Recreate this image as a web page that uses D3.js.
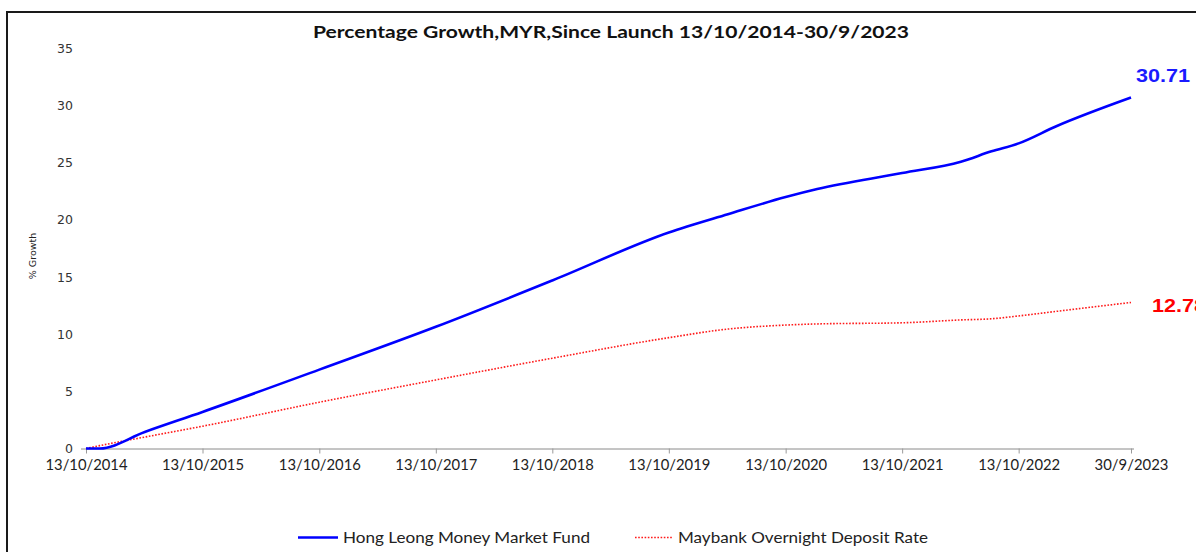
<!DOCTYPE html>
<html>
<head>
<meta charset="utf-8">
<script src="https://cdn.jsdelivr.net/npm/d3@7"></script>
<style>
  body { margin: 0; background: #fff; }
  svg { display: block; }
</style>
</head>
<body>
<div id="chart-area"></div>
<script>
// Data
var dates = ["2014-10-13", "2014-11-25", "2015-04-15", "2015-10-13", "2016-10-13",
             "2017-10-13", "2018-10-13", "2019-10-13", "2020-04-15", "2020-10-13",
             "2021-01-20", "2021-10-13", "2022-04-15", "2022-07-20", "2022-10-13",
             "2023-02-08", "2023-09-30"];
var fundValues = [0, 0, 1.45, 3.2, 6.9, 10.65, 14.7, 18.9, 20.5, 22.0,
                  22.7, 24.1, 25.1, 26.0, 26.7, 28.2, 30.71];
var depositValues = [0, 0.25, 1.0, 1.95, 4.05, 6.0, 7.9, 9.7, 10.45, 10.8,
                     10.9, 11.0, 11.25, 11.35, 11.6, 12.0, 12.78];
var tickDates = ["2014-10-13", "2015-10-13", "2016-10-13", "2017-10-13", "2018-10-13",
                 "2019-10-13", "2020-10-13", "2021-10-13", "2022-10-13", "2023-09-30"];
var tickLabels = ["13/10/2014", "13/10/2015", "13/10/2016", "13/10/2017", "13/10/2018",
                  "13/10/2019", "13/10/2020", "13/10/2021", "13/10/2022", "30/9/2023"];
var yTicks = [0, 5, 10, 15, 20, 25, 30, 35];
var seriesNames = ["Hong Leong Money Market Fund", "Maybank Overnight Deposit Rate"];
var endLabels = ["30.71", "12.78"];

var width = 1196, height = 552;
var parse = d3.timeParse("%Y-%m-%d");

var svg = d3.select("#chart-area")
    .append("svg")
    .attr("width", width)
    .attr("height", height);

svg.append("rect")
    .attr("width", width).attr("height", height)
    .attr("fill", "#fff");

// outer frame
svg.append("rect")
    .attr("x", 7).attr("y", 12)
    .attr("width", 1210).attr("height", 560)
    .attr("fill", "none")
    .attr("stroke", "#1a1a1a")
    .attr("stroke-width", 2);

// Scales
var x = d3.scaleTime()
    .domain([parse(dates[0]), parse(dates[dates.length - 1])])
    .range([86, 1131]);

var y = d3.scaleLinear()
    .domain([0, 35])
    .range([448.5, 48.5]);

// Title
svg.append("text")
    .attr("x", 611)
    .attr("y", 38)
    .attr("text-anchor", "middle")
    .attr("font-family", "Lato, 'Open Sans', sans-serif")
    .attr("font-weight", "bold")
    .attr("font-size", "17px")
    .attr("fill", "#111")
    .attr("textLength", 596)
    .attr("lengthAdjust", "spacingAndGlyphs")
    .text("Percentage Growth,MYR,Since Launch 13/10/2014-30/9/2023");

// X Axis
var xAxisCall = d3.axisBottom(x)
    .tickValues(tickDates.map(parse))
    .tickFormat(function(d, i){ return tickLabels[i]; })
    .tickSizeOuter(0)
    .tickSize(5);

var xAxis = svg.append("g")
    .attr("class", "x axis")
    .attr("transform", "translate(0,448.5)")
    .call(xAxisCall);

xAxis.select(".domain")
    .attr("d", "M81,0.5H1134")
    .attr("stroke", "#8a8a8a");
xAxis.selectAll(".tick line").attr("stroke", "#9a9a9a");
xAxis.selectAll(".tick text")
    .attr("y", 10)
    .attr("font-family", "Lato, sans-serif")
    .attr("font-size", "15.5px")
    .attr("fill", "#222")
    .attr("textLength", function(d, i){ return tickLabels[i].length * 8.2; })
    .attr("lengthAdjust", "spacingAndGlyphs");

// Y Axis (labels only)
var yAxisCall = d3.axisLeft(y)
    .tickValues(yTicks)
    .tickSize(0)
    .tickPadding(0);

var yAxis = svg.append("g")
    .attr("class", "y axis")
    .attr("transform", "translate(73,0)")
    .call(yAxisCall);

yAxis.select(".domain").remove();
yAxis.selectAll(".tick text")
    .attr("font-family", "'DejaVu Sans', sans-serif")
    .attr("font-size", "12.5px")
    .attr("fill", "#333");

// Y Label
svg.append("text")
    .attr("transform", "translate(36,256) rotate(-90)")
    .attr("text-anchor", "middle")
    .attr("font-family", "'DejaVu Sans', sans-serif")
    .attr("font-size", "9.5px")
    .attr("fill", "#222")
    .text("% Growth");

// Lines
var line = d3.line()
    .x(function(d){ return x(d.date); })
    .y(function(d){ return y(d.value); })
    .curve(d3.curveMonotoneX);

var fundData = dates.map(function(d, i){ return { date: parse(d), value: fundValues[i] }; });
var depositData = dates.map(function(d, i){ return { date: parse(d), value: depositValues[i] }; });

svg.append("path")
    .datum(depositData)
    .attr("fill", "none")
    .attr("stroke", "#ff1a1a")
    .attr("stroke-width", 1.6)
    .attr("stroke-dasharray", "1.6,1.6")
    .attr("d", line);

svg.append("path")
    .datum(fundData)
    .attr("fill", "none")
    .attr("stroke", "#0000ff")
    .attr("stroke-width", 2.6)
    .attr("d", line);

// End labels
svg.append("text")
    .attr("x", 1136)
    .attr("y", 82)
    .attr("font-family", "'Liberation Sans', Arial, sans-serif")
    .attr("font-weight", "bold")
    .attr("font-size", "18px")
    .attr("fill", "#1a1aff")
    .attr("textLength", 54)
    .attr("lengthAdjust", "spacingAndGlyphs")
    .text(endLabels[0]);

svg.append("text")
    .attr("x", 1152)
    .attr("y", 312)
    .attr("font-family", "'Liberation Sans', Arial, sans-serif")
    .attr("font-weight", "bold")
    .attr("font-size", "18px")
    .attr("fill", "#ff0000")
    .attr("textLength", 54)
    .attr("lengthAdjust", "spacingAndGlyphs")
    .text(endLabels[1]);

// Legend
var legend = svg.append("g").attr("class", "legend");
var legendX = [298, 635];
var legendTextLen = [247, 250];
var legendStyles = [
    { stroke: "#0000ff", width: 2.6, dash: null, len: 40 },
    { stroke: "#ff1a1a", width: 1.6, dash: "1.6,1.6", len: 38 }
];

seriesNames.forEach(function(name, i){
    var s = legendStyles[i];
    legend.append("line")
        .attr("x1", legendX[i]).attr("x2", legendX[i] + s.len)
        .attr("y1", 537.5).attr("y2", 537.5)
        .attr("stroke", s.stroke)
        .attr("stroke-width", s.width)
        .attr("stroke-dasharray", s.dash);
    legend.append("text")
        .attr("x", legendX[i] + s.len + 5)
        .attr("y", 543)
        .attr("font-family", "Lato, sans-serif")
        .attr("font-size", "16px")
        .attr("fill", "#222")
        .attr("textLength", legendTextLen[i])
        .attr("lengthAdjust", "spacingAndGlyphs")
        .text(name);
});
</script>
</body>
</html>
